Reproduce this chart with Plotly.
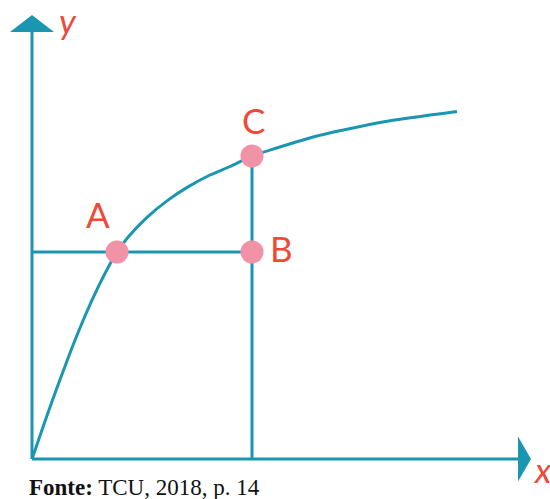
import plotly.graph_objects as go

# curve y = f(x) (units = 10 px)
curve_x = [0, 1.3, 2.6, 4.0, 5.3, 6.6, 7.8, 8.5, 9.6, 11.5, 13.6, 15.6, 17.8, 19.8, 22.0,
           24.3, 28.5, 35.1, 42.5]
curve_y = [0, 3.77, 7.41, 11.12, 14.3, 17.16, 19.5, 20.69, 22.18, 24.17, 25.89, 27.21, 28.4, 29.25, 30.3,
           31.05, 32.3, 33.7, 34.74]

point_names = ["A", "B", "C"]
point_x = [8.5, 22.0, 22.0]
point_y = [20.7, 20.7, 30.3]

source_text = "<b>Fonte:</b> TCU, 2018, p. 14"

teal = "#1b96b1"
pink = "#f192a7"
red = "#ee4a3a"

x_end = 48.6   # where the x axis arrowhead starts
y_end = 42.7   # where the y axis arrowhead starts

fig = go.Figure()

# axes with arrowheads
fig.add_shape(type="line", x0=0, y0=0, x1=x_end, y1=0, line=dict(color=teal, width=3))
fig.add_shape(type="line", x0=0, y0=0, x1=0, y1=y_end, line=dict(color=teal, width=3))
fig.add_shape(type="path", path=f"M {x_end},-2.25 L {x_end + 1.3},0 L {x_end},2.25 Z",
              fillcolor=teal, line=dict(color=teal, width=0))
fig.add_shape(type="path", path=f"M -2.2,{y_end} L 0,{y_end + 1.7} L 2.2,{y_end} Z",
              fillcolor=teal, line=dict(color=teal, width=0))

# guide lines A-B and B-C
fig.add_trace(go.Scatter(x=[0, point_x[1]], y=[point_y[0], point_y[1]], mode="lines",
                         line=dict(color=teal, width=3), hoverinfo="skip"))
fig.add_trace(go.Scatter(x=[point_x[1], point_x[2]], y=[0, point_y[2]], mode="lines",
                         line=dict(color=teal, width=3), hoverinfo="skip"))

# curve
fig.add_trace(go.Scatter(x=curve_x, y=curve_y, mode="lines",
                         line=dict(color=teal, width=3, shape="spline", smoothing=0.6)))

# points
fig.add_trace(go.Scatter(x=point_x, y=point_y, mode="markers",
                         marker=dict(color=pink, size=23), text=point_names))

label_font = dict(family="Lato, Noto Sans, sans-serif", size=35, color=red)
offsets = {"A": (-1.9, 3.8), "B": (2.9, 0.45), "C": (0.1, 3.6)}
for name, px, py in zip(point_names, point_x, point_y):
    dx, dy = offsets[name]
    fig.add_annotation(x=px + dx, y=py + dy, text=name, showarrow=False, font=label_font)

fig.add_annotation(x=3.6, y=43.9, text="<i>y</i>", showarrow=False, font=label_font)
fig.add_annotation(x=51.0, y=-1.0, text="<i>x</i>", showarrow=False, font=label_font)

fig.add_annotation(x=-0.5, y=-2.8, text=source_text, showarrow=False, xanchor="left",
                   font=dict(family="Liberation Serif, serif", size=23, color="#111111"))

fig.update_layout(
    width=550, height=499,
    margin=dict(l=0, r=0, t=0, b=0),
    paper_bgcolor="white", plot_bgcolor="white",
    showlegend=False,
    xaxis=dict(range=[-3.2, 51.8], visible=False, fixedrange=True),
    yaxis=dict(range=[-4.0, 45.9], visible=False, fixedrange=True),
)

# the page body has an 8px margin by default; remove it so the figure fills the window
fig.write_html("out.html", config={"displayModeBar": False},
               post_script="document.body.style.margin='0';")
